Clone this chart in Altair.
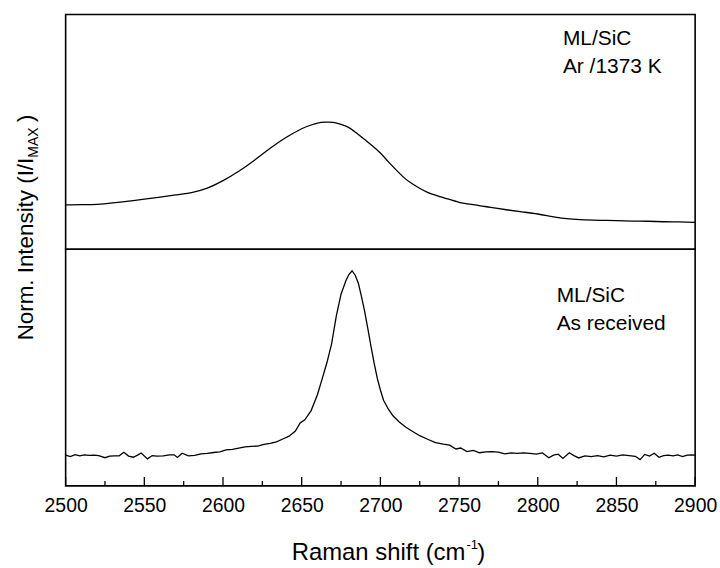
import altair as alt
import pandas as pd

FONT = "Liberation Sans"

# ---- data ----
x_annealed = [2500, 2510, 2520, 2530, 2540, 2550, 2560, 2570, 2580, 2590,
              2600, 2610, 2620, 2630, 2640, 2650, 2655, 2660, 2665, 2670,
              2675, 2680, 2685, 2690, 2695, 2700, 2705, 2710, 2715, 2720,
              2730, 2740, 2750, 2760, 2770, 2780, 2790, 2800, 2810, 2820,
              2830, 2840, 2850, 2860, 2870, 2880, 2890, 2900]
i_annealed = [0.189, 0.190, 0.191, 0.197, 0.205, 0.213, 0.222, 0.231, 0.241, 0.260,
              0.292, 0.332, 0.379, 0.430, 0.476, 0.513, 0.527, 0.537, 0.541, 0.540,
              0.532, 0.518, 0.494, 0.467, 0.440, 0.410, 0.373, 0.338, 0.305, 0.280,
              0.242, 0.220, 0.200, 0.189, 0.178, 0.168, 0.159, 0.150, 0.138, 0.129,
              0.125, 0.123, 0.122, 0.120, 0.119, 0.117, 0.116, 0.114]

x_received = [2500, 2503, 2506, 2509, 2512, 2515, 2518, 2521, 2525, 2528,
              2531, 2534, 2537, 2540, 2543, 2546, 2548, 2552, 2555, 2558,
              2562, 2566, 2569, 2571, 2574, 2578, 2582, 2586, 2590, 2594,
              2598, 2602, 2606, 2610, 2614, 2618, 2622, 2626, 2630, 2634,
              2638, 2642, 2646, 2649, 2652, 2656, 2660, 2663, 2666, 2669,
              2672, 2675, 2678, 2680, 2682, 2684, 2686, 2688, 2690, 2692,
              2694, 2696, 2698, 2700, 2702, 2705, 2708, 2712, 2716, 2720,
              2725, 2730, 2735, 2740, 2744, 2748, 2751, 2755, 2759, 2763,
              2767, 2771, 2775, 2779, 2783, 2787, 2791, 2795, 2799, 2803,
              2807, 2810, 2813, 2816, 2820, 2823, 2826, 2830, 2834, 2838,
              2842, 2846, 2850, 2854, 2858, 2862, 2865, 2868, 2871, 2874,
              2877, 2880, 2883, 2886, 2889, 2892, 2895, 2898, 2900]
i_received = [0.130, 0.124, 0.132, 0.127, 0.131, 0.129, 0.130, 0.128, 0.119, 0.126,
              0.127, 0.127, 0.142, 0.126, 0.121, 0.131, 0.139, 0.114, 0.128, 0.126,
              0.127, 0.131, 0.131, 0.120, 0.138, 0.127, 0.129, 0.135, 0.137, 0.141,
              0.144, 0.152, 0.154, 0.160, 0.165, 0.167, 0.168, 0.175, 0.180, 0.186,
              0.198, 0.210, 0.232, 0.266, 0.279, 0.318, 0.385, 0.452, 0.520, 0.600,
              0.718, 0.810, 0.866, 0.893, 0.909, 0.890, 0.856, 0.800, 0.737, 0.665,
              0.590, 0.520, 0.455, 0.405, 0.362, 0.325, 0.296, 0.270, 0.249, 0.232,
              0.212, 0.197, 0.183, 0.176, 0.172, 0.156, 0.160, 0.145, 0.150, 0.140,
              0.144, 0.145, 0.143, 0.135, 0.139, 0.137, 0.139, 0.137, 0.134, 0.139,
              0.119, 0.130, 0.134, 0.116, 0.140, 0.128, 0.118, 0.127, 0.124, 0.128,
              0.123, 0.130, 0.126, 0.131, 0.128, 0.125, 0.111, 0.133, 0.126, 0.138,
              0.121, 0.128, 0.130, 0.127, 0.131, 0.124, 0.130, 0.131, 0.130]

major_ticks = [2500, 2550, 2600, 2650, 2700, 2750, 2800, 2850, 2900]
minor_ticks = [2525, 2575, 2625, 2675, 2725, 2775, 2825, 2875]

labels_annealed = ["ML/SiC", "Ar /1373 K"]
labels_received = ["ML/SiC", "As received"]

ytitle_parts = ["Norm. Intensity (I/I", "MAX", ")"]
xtitle_parts = ["Raman shift (cm", "-1", ")"]

# ---- scales / axes ----
xs = alt.Scale(domain=[2500, 2900], nice=False, zero=False)
ys = alt.Scale(domain=[0, 1], nice=False, zero=False)
x_axis = alt.Axis(values=major_ticks, format="d", ticks=False, tickSize=0,
                  domain=False, grid=False, labelFont=FONT, labelFontSize=19.5,
                  labelColor="black", labelPadding=11, labelFlush=False,
                  labelOverlap=False, title=None)

one = pd.DataFrame({"k": [0]})


def label(text, size, x, y, align="left", angle=0):
    kw = dict(align=align, baseline="alphabetic", font=FONT, fontSize=size,
              color="black", text=text)
    if angle:
        kw["angle"] = angle
    return alt.Chart(one).mark_text(**kw).encode(x=alt.value(x), y=alt.value(y))


# ---- top panel ----
top_df = pd.DataFrame({"shift": x_annealed, "I": i_annealed})
top_line = alt.Chart(top_df).mark_line(
    color="black", strokeWidth=1.3, interpolate="natural"
).encode(
    x=alt.X("shift:Q", scale=xs, axis=None),
    y=alt.Y("I:Q", scale=ys, axis=None),
)
top_txt_df = pd.DataFrame({"t": labels_annealed, "x": [2816, 2816], "y": [0.872, 0.751]})
top_text = alt.Chart(top_txt_df).mark_text(
    align="left", baseline="alphabetic", font=FONT, fontSize=21, color="black"
).encode(
    x=alt.X("x:Q", scale=xs, axis=None),
    y=alt.Y("y:Q", scale=ys, axis=None),
    text="t:N",
)
top = alt.layer(top_line, top_text).properties(width=633, height=236)

# ---- bottom panel ----
bot_df = pd.DataFrame({"shift": x_received, "I": i_received})
bot_line = alt.Chart(bot_df).mark_line(color="black", strokeWidth=1.3).encode(
    x=alt.X("shift:Q", scale=xs, axis=x_axis),
    y=alt.Y("I:Q", scale=ys, axis=None),
)
bot_txt_df = pd.DataFrame({"t": labels_received, "x": [2812, 2812], "y": [0.779, 0.660]})
bot_text = alt.Chart(bot_txt_df).mark_text(
    align="left", baseline="alphabetic", font=FONT, fontSize=21, color="black"
).encode(
    x=alt.X("x:Q", scale=xs, axis=x_axis),
    y=alt.Y("y:Q", scale=ys, axis=None),
    text="t:N",
)
major_rules = alt.Chart(pd.DataFrame({"v": major_ticks})).mark_rule(
    color="black", strokeWidth=1.3
).encode(x=alt.X("v:Q", scale=xs, axis=x_axis), y=alt.value(238), y2=alt.value(229))
minor_rules = alt.Chart(pd.DataFrame({"v": minor_ticks})).mark_rule(
    color="black", strokeWidth=1.3
).encode(x=alt.X("v:Q", scale=xs, axis=x_axis), y=alt.value(238), y2=alt.value(233))

ytitle = [
    label(ytitle_parts[0], 22.5, -32.5, -92, align="right", angle=270),
    label(ytitle_parts[1], 14, -27.3, -92, align="left", angle=270),
    label(ytitle_parts[2], 22.5, -32.5, -128, align="left", angle=270),
]
xtitle = [
    label(xtitle_parts[0], 24, 402, 313, align="right"),
    label(xtitle_parts[1], 13, 403, 301, align="left"),
    label(xtitle_parts[2], 24, 414, 313, align="left"),
]

bottom = alt.layer(bot_line, bot_text, major_rules, minor_rules, *ytitle, *xtitle).properties(
    width=633, height=238
)

chart = alt.vconcat(top, bottom, spacing=0, bounds="flush").properties(
    padding={"left": 14, "top": 12, "right": 2, "bottom": 0}
).configure(font=FONT).configure_view(stroke="black", strokeWidth=1.6)

chart.save("out.html", embed_options={"renderer": "svg", "actions": False})
